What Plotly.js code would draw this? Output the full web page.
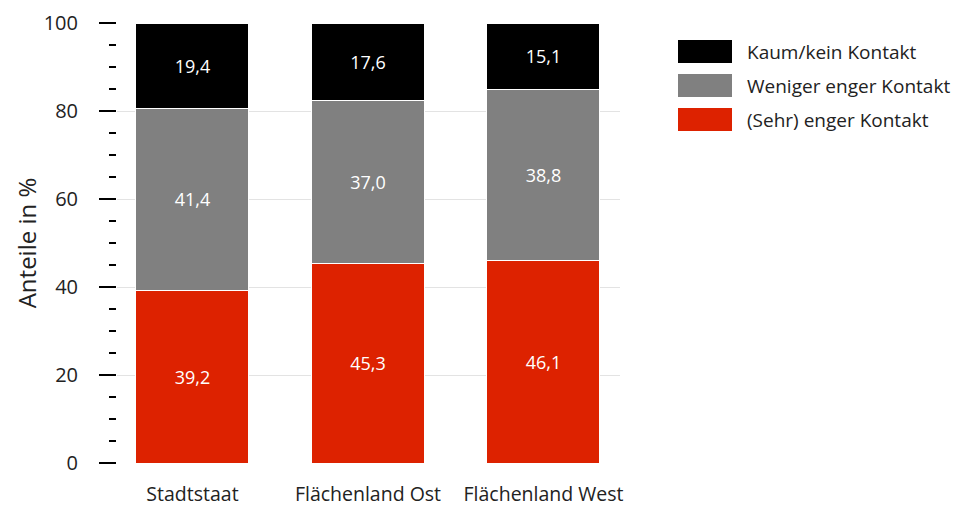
<!DOCTYPE html>
<html><head><meta charset="utf-8">
<script src="https://cdn.plot.ly/plotly-3.0.1.min.js"></script>
<style>html,body{margin:0;padding:0;background:#fff}#chart{width:964px;height:505px}</style>
</head><body><div id="chart"></div>
<script>
const categories = ["Stadtstaat", "Flächenland Ost", "Flächenland West"];
const seriesNames = ["(Sehr) enger Kontakt", "Weniger enger Kontakt", "Kaum/kein Kontakt"];
const sehrEng = [39.2, 45.3, 46.1];
const wenigerEng = [41.4, 37.0, 38.8];
const kaumKein = [19.4, 17.6, 15.1];
const colors = ["#dd2200", "#808080", "#000000"];
const yTicks = [0, 20, 40, 60, 80, 100];

const values = [sehrEng, wenigerEng, kaumKein];
const FONT = "Open Sans, Noto Sans, sans-serif";

const traces = values.map((v, i) => ({
  type: "bar",
  name: seriesNames[i],
  x: categories,
  y: v,
  width: 0.644,
  marker: {color: colors[i], line: {color: "#ffffff", width: 1}},
  texttemplate: "%{y:.1f}",
  textposition: "inside",
  insidetextanchor: "middle",
  textfont: {color: "#ffffff", size: 18, family: FONT},
  hoverinfo: "skip",
  showlegend: false
}));

// legend drawn as shapes + annotations (order top to bottom)
const legendOrder = [2, 1, 0];
const shapes = [];
const annotations = [];
legendOrder.forEach((si, row) => {
  const top = 40 + row * 34;
  shapes.push({
    type: "rect", xref: "paper", yref: "paper",
    x0: (678 - 117) / 503, x1: (732 - 117) / 503,
    y0: 1 - (top + 23 - 23) / 440, y1: 1 - (top - 23) / 440,
    fillcolor: colors[si], line: {width: 0}
  });
  annotations.push({
    xref: "paper", yref: "paper",
    x: (745 - 117) / 503, y: 1 - (top + 11.5 - 23) / 440,
    xanchor: "left", yanchor: "middle",
    text: seriesNames[si], showarrow: false,
    font: {size: 19, color: "#222222", family: FONT}
  });
});

const layout = {
  width: 964, height: 505,
  margin: {l: 117, r: 344, t: 23, b: 42},
  paper_bgcolor: "#ffffff", plot_bgcolor: "#ffffff",
  barmode: "stack",
  separators: ",.",
  font: {family: FONT, color: "#222222", size: 19},
  xaxis: {
    range: [-0.43, 2.436],
    showgrid: false, zeroline: false, showline: false,
    ticks: "", ticklabelstandoff: 17,
    tickfont: {size: 19.5, color: "#222222", family: FONT},
    fixedrange: true
  },
  yaxis: {
    range: [0, 100],
    tickvals: yTicks,
    ticks: "outside", ticklen: 17, tickwidth: 2, tickcolor: "#000000",
    ticklabelstandoff: 17,
    minor: {dtick: 5, ticks: "outside", ticklen: 7, tickwidth: 2, tickcolor: "#000000", showgrid: false},
    showgrid: true, gridcolor: "#e3e3e3", gridwidth: 1,
    zeroline: false, showline: false,
    tickfont: {size: 20, color: "#222222", family: FONT},
    title: {text: "Anteile in %", font: {size: 24, color: "#222222", family: FONT}, standoff: 0},
    fixedrange: true
  },
  shapes: shapes,
  annotations: annotations,
  showlegend: false
};

Plotly.newPlot("chart", traces, layout, {displayModeBar: false, staticPlot: true});
</script>
</body></html>
